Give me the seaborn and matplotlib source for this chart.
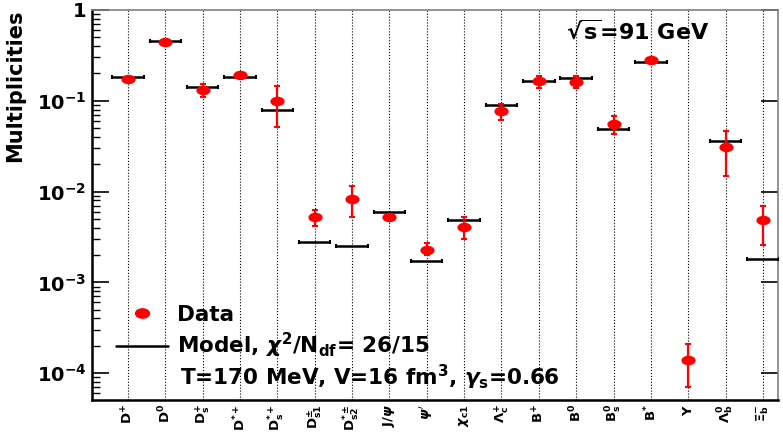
import numpy as np
import pandas as pd
import seaborn as sns
import matplotlib.pyplot as plt
from matplotlib.path import Path
from matplotlib.transforms import Affine2D
from matplotlib.lines import Line2D

particles = [r'$\mathbf{D^{+}}$', r'$\mathbf{D^{0}}$', r'$\mathbf{D_{s}^{+}}$', r'$\mathbf{D^{*+}}$',
             r'$\mathbf{D_{s}^{*+}}$', r'$\mathbf{D_{s1}^{\pm}}$', r'$\mathbf{D_{s2}^{*\pm}}$',
             r'$\mathbf{J/}\psi$', r"$\psi'$", r'$\chi_{\mathbf{c1}}$', r'$\Lambda_{\mathbf{c}}^{+}$',
             r'$\mathbf{B^{+}}$', r'$\mathbf{B^{0}}$', r'$\mathbf{B_{s}^{0}}$', r'$\mathbf{B^{*}}$',
             r'$\Upsilon$', r'$\Lambda_{\mathbf{b}}^{0}$', r'$\Xi_{\mathbf{b}}^{-}$']
data_val = [0.175, 0.445, 0.13, 0.191, 0.10, 0.0052, 0.0083, 0.0052, 0.0023, 0.0041,
            0.077, 0.163, 0.162, 0.056, 0.282, 1.4e-4, 0.031, 0.0048]
err_hi = [0.181, 0.455, 0.153, 0.197, 0.147, 0.0062, 0.0115, 0.0054, 0.0027, 0.0052,
          0.093, 0.185, 0.188, 0.068, 0.29, 2.1e-4, 0.046, 0.007]
err_lo = [0.169, 0.435, 0.109, 0.185, 0.052, 0.0042, 0.0053, 0.0050, 0.0020, 0.0030,
          0.061, 0.139, 0.139, 0.043, 0.274, 7.1e-5, 0.015, 0.0026]
model_val = [0.184, 0.456, 0.14, 0.182, 0.08, 0.00275, 0.0025, 0.0059, 0.0017, 0.0049,
             0.090, 0.167, 0.18, 0.049, 0.27, np.nan, 0.036, 0.0018]

df = pd.DataFrame({'x': np.arange(len(particles)), 'data': data_val,
                   'hi': err_hi, 'lo': err_lo, 'model': model_val})

sns.set_theme(style='ticks')
plt.rcParams['font.family'] = ['DejaVu Sans']
plt.rcParams['font.weight'] = 'bold'
plt.rcParams['mathtext.fontset'] = 'dejavusans'
plt.rcParams['text.color'] = 'black'
plt.rcParams['axes.labelcolor'] = 'black'
plt.rcParams['xtick.color'] = 'black'
plt.rcParams['ytick.color'] = 'black'

fig = plt.figure(figsize=(7.83, 4.33), dpi=100)
ax = fig.add_axes([0.1175, 0.076, 0.876, 0.901])

ellipse = Path.unit_circle().transformed(Affine2D().scale(1.5, 1.0))

# model: horizontal bars
ax.errorbar(df['x'], df['model'], xerr=0.42, fmt='none', ecolor='black',
            elinewidth=1.8, capsize=1.5, capthick=1.5, zorder=3)
# data error bars
ax.errorbar(df['x'], df['data'], yerr=[df['data'] - df['lo'], df['hi'] - df['data']],
            fmt='none', ecolor='red', elinewidth=1.6, capsize=2.5, capthick=1.5, zorder=4)
sns.scatterplot(data=df, x='x', y='data', marker=ellipse, s=105, color='red',
                edgecolor='red', linewidth=0, ax=ax, zorder=5)

ax.set_yscale('log')
ax.set_ylim(5.05e-5, 1)
ax.set_xlim(-0.96, 17.4)
ax.set_xlabel('')
ax.set_xticks(df['x'])
ax.set_xticklabels(particles, rotation=90, fontsize=9.5, va='top')
ax.tick_params(axis='x', length=0, pad=3)
ax.grid(axis='x', linestyle=':', color='black', linewidth=0.8)

yt = [1e-4, 1e-3, 1e-2, 1e-1, 1]
ax.set_yticks(yt)
ax.set_yticklabels([r'$\mathbf{10^{-4}}$', r'$\mathbf{10^{-3}}$', r'$\mathbf{10^{-2}}$',
                    r'$\mathbf{10^{-1}}$', r'$\mathbf{1}$'], fontsize=14)
ax.tick_params(axis='y', which='major', direction='in', length=12, width=1.2,
               right=True, left=True, pad=4)
ax.tick_params(axis='y', which='minor', direction='in', length=6, width=1.0,
               left=True, right=False)
for t in ax.yaxis.get_major_ticks():
    t.tick2line.set_color('grey')

ax.set_ylabel('Multiplicities', fontsize=15, fontweight='bold', loc='top')
ax.yaxis.set_label_coords(-0.098, 1.0)

for s in ['left', 'bottom']:
    ax.spines[s].set_linewidth(1.8)
    ax.spines[s].set_color('black')
for s in ['top', 'right']:
    ax.spines[s].set_linewidth(1.2)
    ax.spines[s].set_color('grey')

ax.text(0.795, 0.946, r'$\sqrt{\mathbf{s}}$=91 GeV', transform=ax.transAxes,
        fontsize=16, fontweight='bold', ha='center', va='center')

handles = [Line2D([], [], marker=ellipse, color='red', linestyle='none', markersize=10),
           Line2D([], [], color='black', linewidth=1.8)]
labels = ['Data', r'Model, $\chi^{2}$/N$_{\mathbf{df}}$= 26/15']
ax.legend(handles, labels, loc='upper left', bbox_to_anchor=(0.035, 0.245), frameon=False,
          prop={'size': 15.5, 'weight': 'bold'}, handlelength=2.4, handletextpad=0.45,
          borderpad=0, borderaxespad=0, labelspacing=0.3)
ax.text(0.128, 0.059, r'T=170 MeV, V=16 fm$^{\mathbf{3}}$, $\gamma_{\mathbf{s}}$=0.66',
        transform=ax.transAxes, fontsize=15.5, fontweight='bold', va='center', ha='left')

fig.savefig('out.png', dpi=100)
